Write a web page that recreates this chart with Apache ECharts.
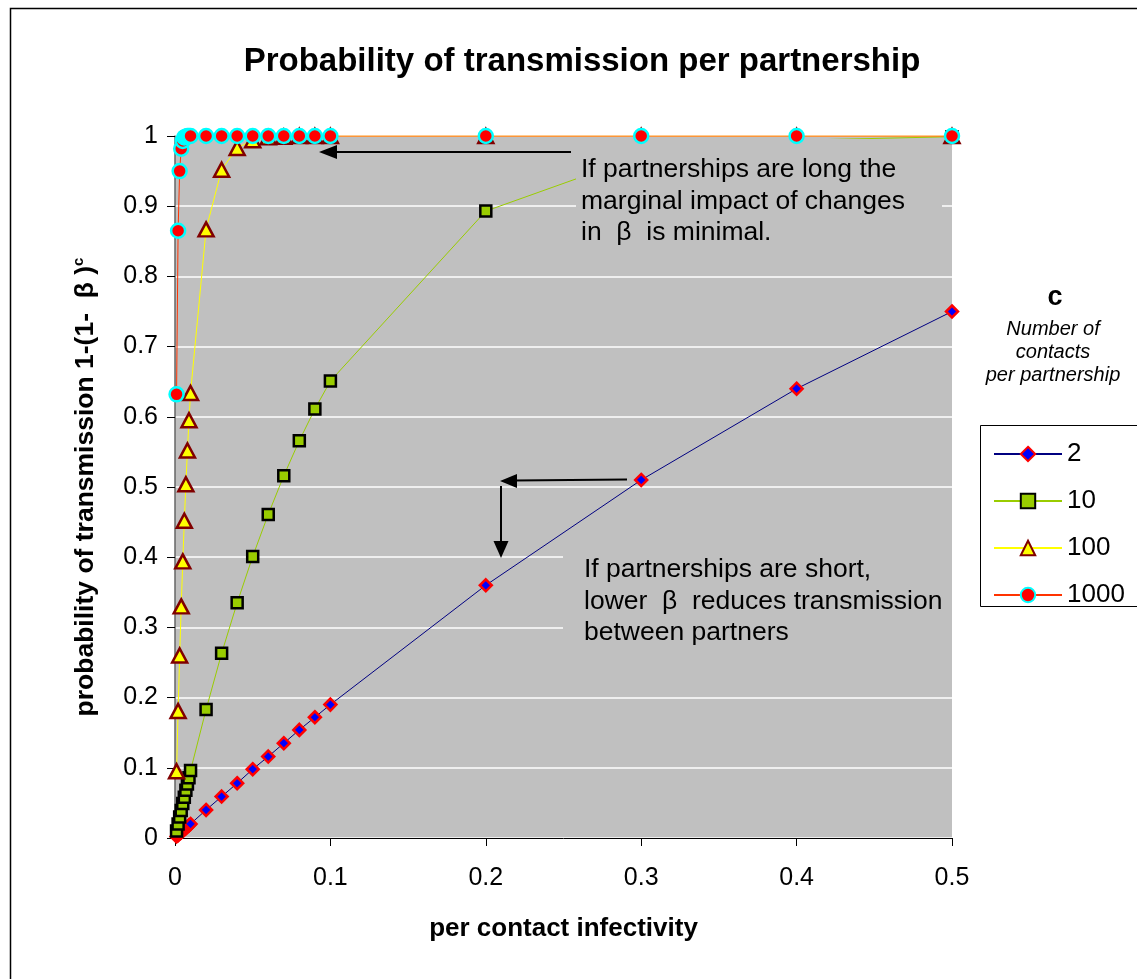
<!DOCTYPE html>
<html>
<head>
<meta charset="utf-8">
<script src="https://cdn.jsdelivr.net/npm/echarts@6/dist/echarts.min.js"></script>
<style>
  html, body { margin: 0; padding: 0; background: #ffffff; }
  #chart { width: 1137px; height: 979px; }
</style>
</head>
<body>
<div id="chart"></div>
<script>
// per contact infectivity (beta)
const beta = [0.001, 0.002, 0.003, 0.004, 0.005, 0.006, 0.007, 0.008, 0.009, 0.01,
              0.02, 0.03, 0.04, 0.05, 0.06, 0.07, 0.08, 0.09, 0.1,
              0.2, 0.3, 0.4, 0.5];

// probability of transmission per partnership, one list per number of contacts c
const c2 = [0.002, 0.004, 0.006, 0.008, 0.010, 0.012, 0.014, 0.016, 0.018, 0.020,
            0.040, 0.059, 0.078, 0.098, 0.116, 0.135, 0.154, 0.172, 0.190,
            0.360, 0.510, 0.640, 0.750];
const c10 = [0.010, 0.020, 0.030, 0.039, 0.049, 0.058, 0.068, 0.077, 0.086, 0.096,
             0.183, 0.263, 0.335, 0.401, 0.461, 0.516, 0.566, 0.611, 0.651,
             0.893, 0.972, 0.994, 0.999];
const c100 = [0.095, 0.181, 0.260, 0.330, 0.394, 0.452, 0.504, 0.552, 0.595, 0.634,
              0.867, 0.952, 0.983, 0.994, 0.998, 0.999, 1.000, 1.000, 1.000,
              1.000, 1.000, 1.000, 1.000];
const c1000 = [0.632, 0.865, 0.950, 0.982, 0.993, 0.998, 0.999, 1.000, 1.000, 1.000,
               1.000, 1.000, 1.000, 1.000, 1.000, 1.000, 1.000, 1.000, 1.000,
               1.000, 1.000, 1.000, 1.000];

const seriesNames = ['2', '10', '100', '1000'];

const FONT = '"Liberation Sans", Arial, sans-serif';

function pairs(ys) { return beta.map((x, i) => [x, ys[i]]); }

const chart = echarts.init(document.getElementById('chart'), null, { renderer: 'canvas' });

const option = {
  backgroundColor: '#ffffff',
  animation: false,
  title: {
    text: 'Probability of transmission per partnership',
    left: 577, top: 40, textAlign: 'center',
    textStyle: { fontFamily: FONT, fontSize: 33, fontWeight: 'bold', color: '#000' }
  },
  grid: {
    left: 175, top: 136, width: 777, height: 702,
    show: true, backgroundColor: '#C0C0C0', borderWidth: 0
  },
  xAxis: {
    type: 'value', min: 0, max: 0.5, interval: 0.1,
    name: 'per contact infectivity', nameLocation: 'middle', nameGap: 78,
    nameTextStyle: { fontFamily: FONT, fontSize: 26, fontWeight: 'bold', color: '#000' },
    axisLine: { show: true, onZero: false, lineStyle: { color: '#000', width: 1 } },
    axisTick: { show: true, inside: false, length: 8, lineStyle: { color: '#000' } },
    axisLabel: { fontFamily: FONT, fontSize: 25, color: '#000', margin: 28 },
    splitLine: { show: false }
  },
  yAxis: {
    type: 'value', min: 0, max: 1, interval: 0.1,
    name: '{b|probability of transmission 1-(1-  β )}{s|c}',
    nameLocation: 'middle', nameGap: 74, nameRotate: 90,
    nameTextStyle: {
      rich: {
        b: { fontFamily: FONT, fontSize: 26.5, fontWeight: 'bold', color: '#000', lineHeight: 30 },
        s: { fontFamily: FONT, fontSize: 15, fontWeight: 'bold', color: '#000', verticalAlign: 'top', lineHeight: 30 }
      }
    },
    axisLine: { show: true, onZero: false, lineStyle: { color: '#666', width: 1.5 } },
    axisTick: { show: true, inside: false, length: 8, lineStyle: { color: '#000' } },
    axisLabel: { fontFamily: FONT, fontSize: 25, color: '#000', margin: 17 },
    splitLine: { show: true, lineStyle: { color: '#ffffff', width: 1.5 } }
  },
  legend: {
    orient: 'vertical', left: 988, top: 436,
    itemWidth: 68, itemHeight: 18, itemGap: 21,
    data: seriesNames,
    textStyle: { fontFamily: FONT, fontSize: 26, color: '#000' }
  },
  series: [
    {
      name: '2', type: 'line', data: pairs(c2), z: 2,
      symbol: 'diamond', symbolSize: 12,
      lineStyle: { color: '#000080', width: 1 },
      itemStyle: { color: '#0000FF', borderColor: '#FF0000', borderWidth: 2.5 }
    },
    {
      name: '10', type: 'line', data: pairs(c10), z: 3,
      symbol: 'rect', symbolSize: 11,
      lineStyle: { color: '#99CC00', width: 1 },
      itemStyle: { color: '#99CC00', borderColor: '#000000', borderWidth: 2.5 }
    },
    {
      name: '100', type: 'line', data: pairs(c100), z: 4,
      symbol: 'triangle', symbolSize: [15, 14],
      lineStyle: { color: '#FFFF00', width: 1 },
      itemStyle: { color: '#FFFF00', borderColor: '#800000', borderWidth: 2.5 }
    },
    {
      name: '1000', type: 'line', data: pairs(c1000), z: 30,
      symbol: 'circle', symbolSize: 14,
      lineStyle: { color: '#FF3300', width: 1 },
      itemStyle: { color: '#FF0000', borderColor: '#00FFFF', borderWidth: 2.5 }
    }
  ],
  graphic: [
    // outer chart frame
    { type: 'rect', shape: { x: 10.5, y: 8.5, width: 1200, height: 1100 },
      style: { fill: null, stroke: '#000', lineWidth: 1.5 }, z: 0, silent: true },
    // legend frame
    { type: 'rect', shape: { x: 980.5, y: 425.5, width: 200, height: 181 },
      style: { fill: '#ffffff', stroke: '#000', lineWidth: 1 }, z: 1, silent: true },
    // legend heading
    { type: 'text', x: 1055, y: 284, z: 10,
      style: { text: 'c', font: 'bold 27px ' + FONT, fill: '#000', align: 'center', verticalAlign: 'top' } },
    { type: 'text', x: 1053, y: 318, z: 10,
      style: { text: 'Number of\ncontacts\nper partnership', font: 'italic 20px ' + FONT, lineHeight: 23,
               fill: '#000', align: 'center', verticalAlign: 'top' } },
    // upper note
    { type: 'rect', shape: { x: 576, y: 139, width: 366, height: 112 },
      style: { fill: '#C0C0C0' }, z: 20, silent: true },
    { type: 'text', x: 581, y: 154, z: 21,
      style: { text: 'If partnerships are long the\nmarginal impact of changes\nin  β  is minimal.',
               font: '26.5px ' + FONT, lineHeight: 31.5, fill: '#000', align: 'left', verticalAlign: 'top' } },
    { type: 'line', shape: { x1: 571, y1: 152, x2: 334, y2: 152 },
      style: { stroke: '#000', lineWidth: 2 }, z: 22 },
    { type: 'polygon', shape: { points: [[319, 152], [337, 145], [337, 159]] },
      style: { fill: '#000' }, z: 22 },
    // lower note
    { type: 'rect', shape: { x: 563, y: 553, width: 389, height: 98 },
      style: { fill: '#C0C0C0' }, z: 20, silent: true },
    { type: 'text', x: 584, y: 554, z: 21,
      style: { text: 'If partnerships are short,\nlower  β  reduces transmission\nbetween partners',
               font: '26.5px ' + FONT, lineHeight: 31.5, fill: '#000', align: 'left', verticalAlign: 'top' } },
    { type: 'line', shape: { x1: 627, y1: 479.5, x2: 514, y2: 480.5 },
      style: { stroke: '#000', lineWidth: 2 }, z: 22 },
    { type: 'polygon', shape: { points: [[500, 481], [517, 474], [517, 488]] },
      style: { fill: '#000' }, z: 22 },
    { type: 'line', shape: { x1: 501, y1: 486, x2: 501, y2: 544 },
      style: { stroke: '#000', lineWidth: 2 }, z: 22 },
    { type: 'polygon', shape: { points: [[501, 558], [493.5, 541], [508.5, 541]] },
      style: { fill: '#000' }, z: 22 }
  ]
};

chart.setOption(option);
</script>
</body>
</html>
